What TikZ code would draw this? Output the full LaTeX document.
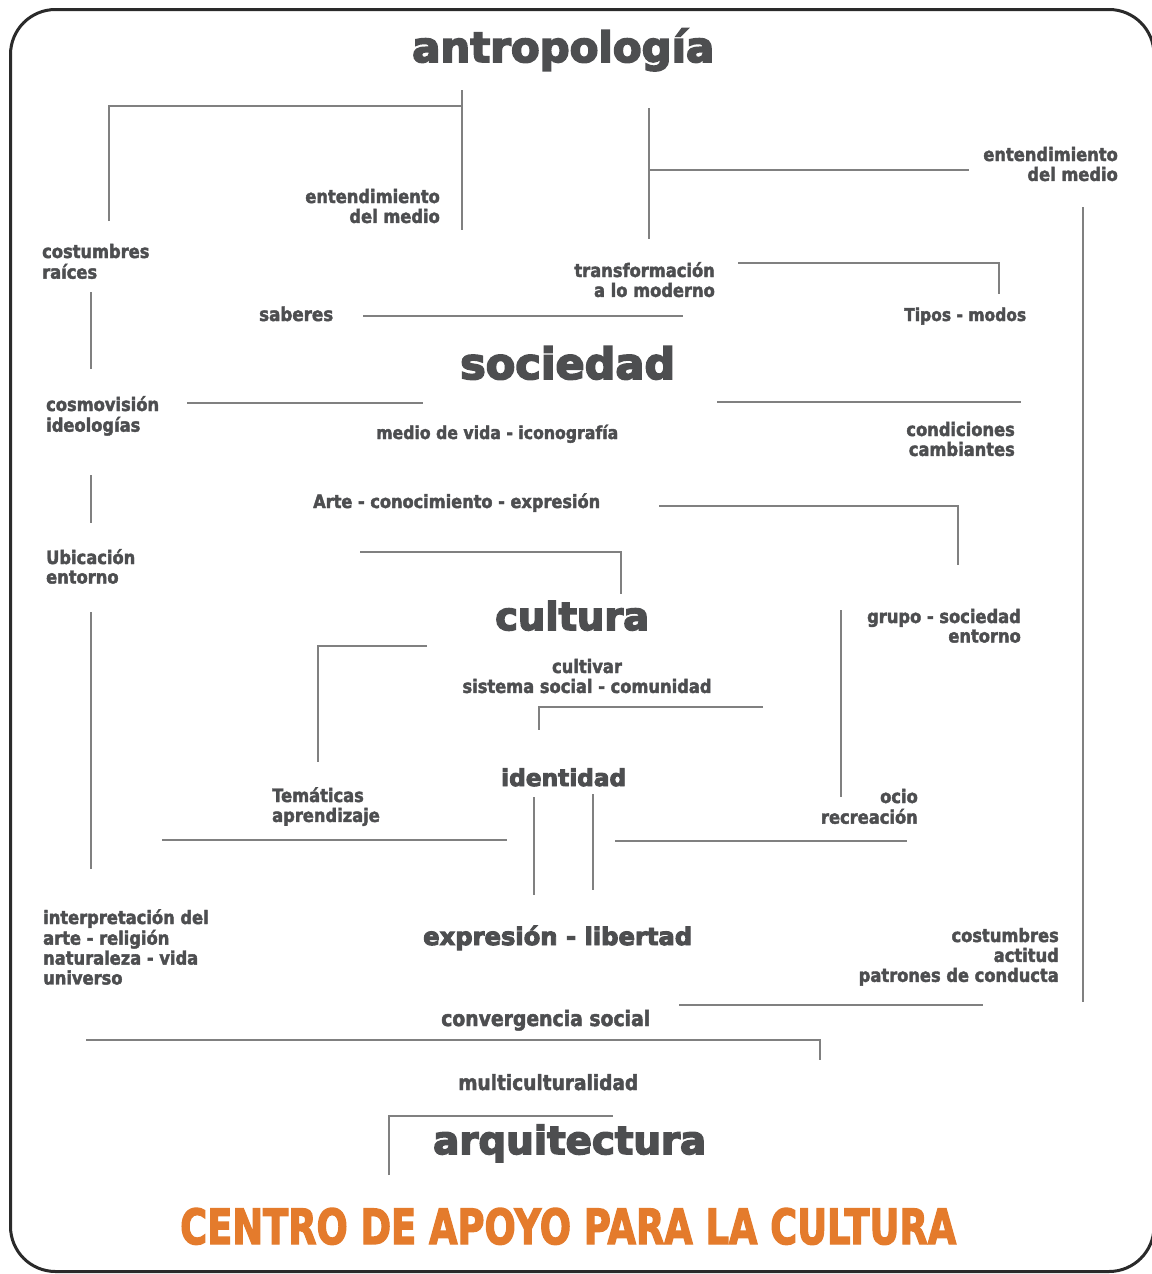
\documentclass[tikz,border=0pt]{standalone}
\usepackage{fontspec}
\setmainfont{DejaVu Sans}
\newfontfamily\lblfont{DejaVu Sans}[BoldFeatures={FakeBold=2.2,FakeStretch=0.88}]
\newfontfamily\bigfont{DejaVu Sans}[BoldFeatures={FakeBold=4}]
\newfontfamily\ttlfont{DejaVu Sans}[BoldFeatures={FakeBold=3}]
\usepackage{graphicx}
\definecolor{txt}{HTML}{4D4E50}
\definecolor{ln}{HTML}{808080}
\definecolor{frm}{HTML}{2A2A2A}
\definecolor{org}{HTML}{E47B2C}
\newcommand{\myL}[1]{\begin{tabular}[t]{@{}l@{}}#1\end{tabular}}
\newcommand{\myR}[1]{\begin{tabular}[t]{@{}r@{}}#1\end{tabular}}
\newcommand{\myC}[1]{\begin{tabular}[t]{@{}c@{}}#1\end{tabular}}
\newcommand{\fitw}[2]{\resizebox{#1pt}{!}{#2}}
\tikzset{
  lbl/.style={inner sep=0pt, text=txt, font=\lblfont\bfseries\fontsize{18.5}{19.5}\selectfont},
  big/.style={inner sep=0pt, text=txt, font=\bigfont\bfseries\fontsize{30}{34}\selectfont},
  conn/.style={draw=ln, line width=1.6pt},
  frame/.style={draw=frm, line width=3pt, rounded corners=45pt}
}
\begin{document}
\begin{tikzpicture}[x=1pt,y=-1pt]
\useasboundingbox (0,0) rectangle (1151,1274);
\fill[white] (0,0) rectangle (1151,1274);
\draw[frame] (10.5,9.5) rectangle (1154,1271.5);

% big words
\node[big, anchor=base west] (antro) at (412,62) {\fitw{302}{antropología}};
\node[big, anchor=base west] (soc) at (460,379) {\fitw{215}{sociedad}};
\node[big, anchor=base west] (cult) at (495,630) {\fitw{154}{cultura}};
\node[big, anchor=base west] (ident) at (501,786) {\fitw{125}{identidad}};
\node[big, anchor=base west] (expr) at (423,945) {\fitw{269}{expresión - libertad}};
\node[big, anchor=base west] (arq) at (433,1154) {\fitw{273}{arquitectura}};
\node[inner sep=0pt, anchor=base west, text=org, font=\ttlfont\bfseries] (title) at (180,1244)
  {\resizebox{776pt}{36pt}{CENTRO DE APOYO PARA LA CULTURA}};

% single-line labels
\node[lbl, anchor=base west] (sab) at (259,321) {\fitw{74}{saberes}};
\node[lbl, anchor=base west] (tipos) at (904,321) {\fitw{122}{Tipos - modos}};
\node[lbl, anchor=base west] (medio) at (376,439) {\fitw{242}{medio de vida - iconografía}};
\node[lbl, anchor=base west] (arte) at (313,508) {\fitw{287}{Arte - conocimiento - expresión}};
\node[lbl, anchor=base west] (conv) at (441,1026) {\fitw{209}{convergencia social}};
\node[lbl, anchor=base west] (multi) at (458,1090) {\fitw{180}{multiculturalidad}};

% multi-line labels
\node[lbl, anchor=base east] (ent1) at (440,203) {\myR{entendimiento\\del medio}};
\node[lbl, anchor=base west] (cost1) at (42,258) {\myL{costumbres\\raíces}};
\node[lbl, anchor=base east] (transf) at (715,277) {\myR{transformación\\a lo moderno}};
\node[lbl, anchor=base east] (ent2) at (1118,161) {\myR{entendimiento\\del medio}};
\node[lbl, anchor=base west] (cosmo) at (46,411) {\myL{cosmovisión\\ideologías}};
\node[lbl, anchor=base east] (cond) at (1015,436) {\myR{condiciones\\cambiantes}};
\node[lbl, anchor=base west] (ubic) at (46,564) {\myL{Ubicación\\entorno}};
\node[lbl, anchor=base east] (grupo) at (1021,623) {\myR{grupo - sociedad\\entorno}};
\node[lbl, anchor=base] (cultiv) at (587,673) {\myC{cultivar\\sistema social - comunidad}};
\node[lbl, anchor=base west] (temat) at (272,802) {\myL{Temáticas\\aprendizaje}};
\node[lbl, anchor=base east] (ocio) at (918,803) {\myR{ocio\\recreación}};
\node[lbl, anchor=base west] (interp) at (43,924) {\myL{interpretación del\\arte - religión\\naturaleza - vida\\universo}};
\node[lbl, anchor=base east] (cost2) at (1059,942) {\myR{costumbres\\actitud\\patrones de conducta}};

% connector lines
\draw[conn] (109,221) -- (109,106) -- (462,106);
\draw[conn] (462,90) -- (462,230);
\draw[conn] (649,108) -- (649,239);
\draw[conn] (649,170) -- (969,170);
\draw[conn] (738,263) -- (999,263) -- (999,294);
\draw[conn] (1083,207) -- (1083,1002);
\draw[conn] (91,292) -- (91,369);
\draw[conn] (363,316) -- (683,316);
\draw[conn] (187,403) -- (423,403);
\draw[conn] (717,402) -- (1021,402);
\draw[conn] (91,475) -- (91,523);
\draw[conn] (659,506) -- (958,506) -- (958,565);
\draw[conn] (360,552) -- (621,552) -- (621,594);
\draw[conn] (91,612) -- (91,869);
\draw[conn] (427,646) -- (318,646) -- (318,762);
\draw[conn] (763,707) -- (539,707) -- (539,730);
\draw[conn] (841,610) -- (841,797);
\draw[conn] (162,840) -- (507,840);
\draw[conn] (534,797) -- (534,895);
\draw[conn] (593,794) -- (593,890);
\draw[conn] (615,841) -- (907,841);
\draw[conn] (679,1005) -- (983,1005);
\draw[conn] (86,1040) -- (820,1040) -- (820,1060);
\draw[conn] (389,1175) -- (389,1116) -- (613,1116);
\end{tikzpicture}
\end{document}
